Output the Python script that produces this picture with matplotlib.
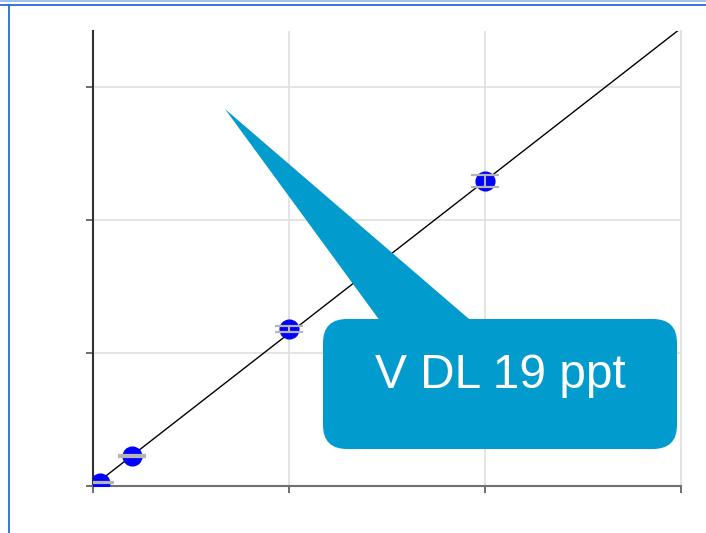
import matplotlib
matplotlib.use("Agg")
import numpy as np
from matplotlib import pyplot as plt
from matplotlib.patches import FancyBboxPatch, Polygon
from matplotlib.lines import Line2D

# calibration standards (ppb) and measured response
conc = [0.035, 0.2, 1.0, 2.0]
signal = [0.025, 0.226, 1.18, 2.29]
signal_err = [0.004, 0.008, 0.023, 0.045]

fit_slope = 1.147
fit_intercept = 0.0

x_ticks = [0, 1, 2, 3]
y_ticks = [0, 1, 2, 3]
callout_text = "V DL 19 ppt"

W, H = 706, 533
fig = plt.figure(figsize=(W / 100, H / 100), dpi=100)

ax = fig.add_axes([93 / W, 1 - 486 / H, (681 - 93) / W, (486 - 31) / H])
ax.set_xlim(0, 3.0)
ax.set_ylim(0, 3.42)
ax.set_xticks(x_ticks)
ax.set_yticks(y_ticks)
ax.set_xticklabels([])
ax.set_yticklabels([])
ax.grid(True, color="#e2e2e2", lw=1.3)
ax.set_axisbelow(True)

ax.spines["top"].set_visible(False)
ax.spines["right"].set_color("#e2e2e2")
ax.spines["right"].set_linewidth(1.3)
ax.spines["left"].set_color("#303030")
ax.spines["left"].set_linewidth(1.5)
ax.spines["bottom"].set_color("#707070")
ax.spines["bottom"].set_linewidth(1.5)
ax.tick_params(axis="both", direction="out", length=5, width=1.2, colors="#555555")

xs = np.linspace(0, 3.0, 50)
ax.plot(xs, fit_slope * xs + fit_intercept, color="black", lw=1.0, zorder=3)

ax.plot(conc, signal, "o", color="#0000ff", ms=13.5, mec="#0000ff", zorder=4)
ax.errorbar(conc, signal, yerr=signal_err, fmt="none", ecolor="#b5b5b5",
            elinewidth=1.5, capsize=10, capthick=1.6, zorder=5)

# callout drawn in pixel coordinates on a full-figure overlay
ov = fig.add_axes([0, 0, 1, 1], facecolor="none")
ov.set_xlim(0, W)
ov.set_ylim(H, 0)
ov.axis("off")

blue = "#029bcd"
ov.add_patch(Polygon([(225, 109), (383, 325), (476, 325)], closed=True,
                     facecolor=blue, edgecolor="none"))
ov.add_patch(FancyBboxPatch((323, 319), 677 - 323, 449 - 319,
                            boxstyle="round,pad=0,rounding_size=24",
                            facecolor=blue, edgecolor="none"))
ov.text(500, 376, callout_text, color="white", fontsize=34.5,
        family="Liberation Sans", ha="center", va="center")

# frame lines along the top and left edge
ov.add_line(Line2D([0, W], [0.5, 0.5], color="#8fb3ea", lw=1.2))
ov.add_line(Line2D([0, W], [5.2, 5.2], color="#2a68d6", lw=1.3))
ov.add_line(Line2D([8.5, 8.5], [5.2, H], color="#2a68d6", lw=1.3))

fig.savefig("out.png", dpi=100)
